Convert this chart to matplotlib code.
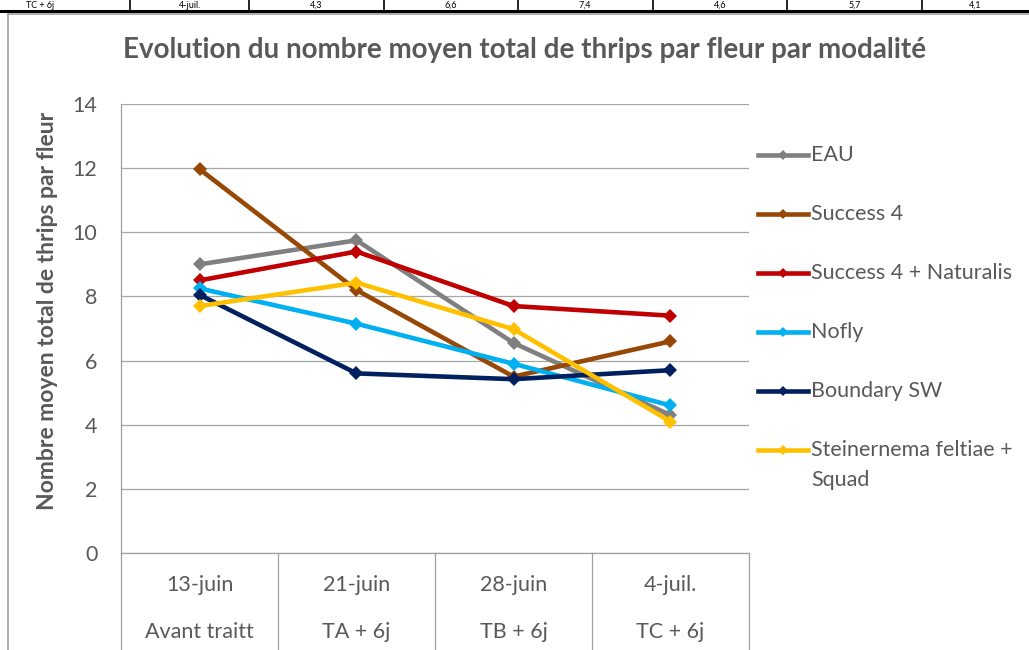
import matplotlib
matplotlib.use("Agg")
import matplotlib.pyplot as plt
from matplotlib.lines import Line2D
import matplotlib.transforms as mtransforms

# ---------------- data ----------------
dates = ["13-juin", "21-juin", "28-juin", "4-juil."]
stages = ["Avant traitt", "TA + 6j", "TB + 6j", "TC + 6j"]
series_names = ["EAU", "Success 4", "Success 4 + Naturalis", "Nofly",
                "Boundary SW", "Steinernema feltiae +\nSquad"]
eau = [9.0, 9.75, 6.55, 4.3]
success4 = [11.97, 8.2, 5.5, 6.6]
success4_naturalis = [8.5, 9.4, 7.7, 7.4]
nofly = [8.25, 7.15, 5.9, 4.6]
boundary_sw = [8.05, 5.6, 5.42, 5.7]
steinernema_squad = [7.7, 8.43, 6.98, 4.1]
series_values = [eau, success4, success4_naturalis, nofly, boundary_sw, steinernema_squad]
colors = ["#808080", "#974806", "#C00000", "#00B0F0", "#002060", "#FFC000"]
yticks = [0, 2, 4, 6, 8, 10, 12, 14]

title = "Evolution du nombre moyen total de thrips par fleur par modalité"
ylabel = "Nombre moyen total de thrips par fleur"

# ---------------- figure ----------------
W, H = 1029, 650
fig = plt.figure(figsize=(W / 100, H / 100), dpi=100)
FONT = "Lato"
TXT = "#595959"
FS = 15.5

def fx(px):
    return px / W

def fy(py):
    return 1 - py / H

# table fragment at top (cropped)
fig.add_artist(Line2D([0, 1], [fy(10.5), fy(10.5)], color="black", lw=2.2))
for xp in [130, 249, 384, 518, 653, 787, 922]:
    fig.add_artist(Line2D([fx(xp), fx(xp)], [fy(0), fy(10)], color="black", lw=1.2))
cells = ["TC + 6j", dates[-1]] + [f"{s[-1]:.1f}".replace(".", ",") for s in series_values]
cell_x = [40, 190, 316, 451, 585, 720, 855, 975]
for cx, ct in zip(cell_x, cells):
    fig.text(fx(cx), fy(8), ct, ha="center", va="baseline", fontsize=6.5,
             family=FONT, color="black")

# chart frame
fig.add_artist(Line2D([fx(8), 1], [fy(13.5), fy(13.5)], color="#A0A0A0", lw=1.2))
fig.add_artist(Line2D([fx(8), fx(8)], [fy(13.5), 0], color="#A0A0A0", lw=1.2))

# axes
ax = fig.add_axes([fx(121), fy(553), 628 / W, 449 / H])
x = [i + 0.5 for i in range(len(dates))]
for vals, col in zip(series_values, colors):
    ax.plot(x, vals, color=col, lw=3.3, marker="D", ms=7.6, mec=col, mew=0,
            solid_joinstyle="round", clip_on=False)

ax.set_xlim(0, len(dates))
ax.set_ylim(0, 14)
ax.set_yticks(yticks)
ax.set_yticklabels([str(t) for t in yticks], family=FONT, fontsize=FS, color=TXT)
ax.tick_params(axis="y", length=0, pad=17)
ax.set_xticks([])
ax.grid(axis="y", color="#A6A6A6", lw=0.9)
ax.set_axisbelow(True)
for s in ["top", "right"]:
    ax.spines[s].set_visible(False)
for s in ["left", "bottom"]:
    ax.spines[s].set_color("#A0A0A0")
    ax.spines[s].set_linewidth(0.9)

# category axis (two levels)
trans = mtransforms.blended_transform_factory(ax.transData, fig.transFigure)
for i in range(len(dates) + 1):
    ax.add_artist(Line2D([i, i], [fy(553), 0], transform=trans, color="#A0A0A0",
                         lw=0.9, clip_on=False))
for xi, d, st in zip(x, dates, stages):
    ax.text(xi, fy(585), d, transform=trans, ha="center", va="center",
            family=FONT, fontsize=FS, color=TXT)
    ax.text(xi, fy(632), st, transform=trans, ha="center", va="center",
            family=FONT, fontsize=FS, color=TXT)

# title and y label
fig.text(fx(525), fy(50), title, ha="center", va="center", family=FONT,
         fontsize=20, fontweight="bold", color=TXT)
fig.text(fx(48), fy(311), ylabel, ha="center", va="center", rotation=90,
         family=FONT, fontsize=16.5, fontweight="bold", color=TXT)

# legend
for i, (name, col) in enumerate(zip(series_names, colors)):
    yc = 155 + 59 * i
    fig.add_artist(Line2D([fx(758), fx(808)], [fy(yc), fy(yc)], color=col, lw=3.3))
    fig.add_artist(Line2D([fx(783)], [fy(yc)], color=col, marker="D", ms=5.5, mew=0))
    for j, line in enumerate(name.split("\n")):
        fig.text(fx(811), fy(yc + 30 * j), line, ha="left", va="center",
                 family=FONT, fontsize=FS, color=TXT)

fig.savefig("out.png", dpi=100)
